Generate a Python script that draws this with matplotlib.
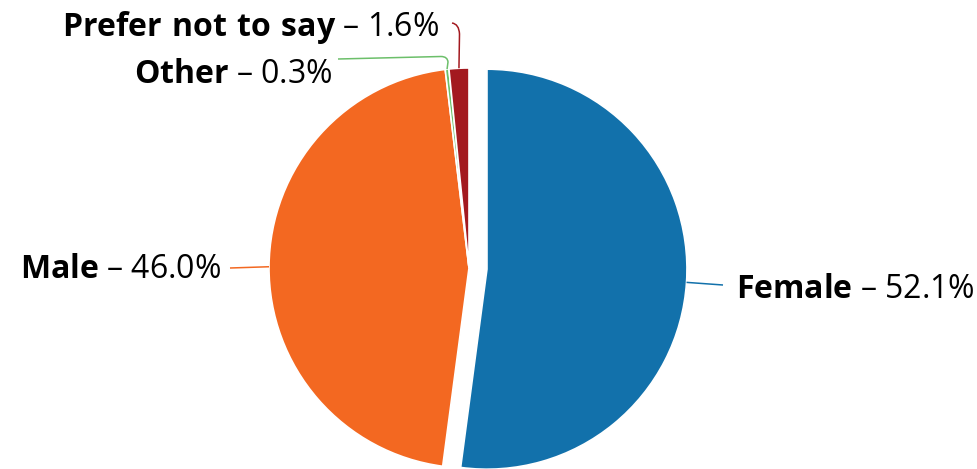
import numpy as np
import matplotlib
matplotlib.use("Agg")
import matplotlib.pyplot as plt
from matplotlib.path import Path
from matplotlib.patches import PathPatch

# Gender split of respondents (percent)
categories = ["Female", "Male", "Other", "Prefer not to say"]
shares = [52.1, 46.0, 0.3, 1.6]
colors = ["#1271AB", "#F36821", "#6CBF6A", "#A3191F"]
line_colors = ["#1271AB", "#F36821", "#6CBF6A", "#A3191F"]

W, H = 978, 469
FONT = "Open Sans"
plt.rcParams["font.family"] = [FONT, "DejaVu Sans"]
plt.rcParams["mathtext.fontset"] = "custom"
plt.rcParams["mathtext.rm"] = FONT
plt.rcParams["mathtext.bf"] = f"{FONT}:bold"

fig = plt.figure(figsize=(W / 100, H / 100), dpi=100)
ax = fig.add_axes([0, 0, 1, 1])


def px(x, y):
    """Pixel position (origin top-left) to data coordinates."""
    return (x, H - y)


center = px(469, 268)
radius = 200
explode = [18, 0, 0, 0]

wedges, _ = ax.pie(
    shares, colors=colors, startangle=90, counterclock=False,
    explode=explode, center=center, radius=radius,
    wedgeprops=dict(edgecolor="white", linewidth=1.2),
)
ax.set_xlim(0, W)
ax.set_ylim(0, H)
ax.set_aspect("auto")
ax.axis("off")


def arc_mid(w):
    t = np.deg2rad((w.theta1 + w.theta2) / 2)
    return (w.center[0] + w.r * np.cos(t), w.center[1] + w.r * np.sin(t))


# label anchors (pixel coords) and leader-line routes toward the labels
layout = {
    "Female": dict(pos=(736, 298), ha="left", route=[(723, 285)]),
    "Male": dict(pos=(221, 278), ha="right", route=[(230, 268)]),
    "Other": dict(pos=(332, 83), ha="right",
                  route=[(448, 62), (447.5, 56.5), (441, 56.5), (338, 59)]),
    "Prefer not to say": dict(pos=(439, 36), ha="right",
                              route=[(459.5, 34), (459, 24), (452, 23)]),
}

for w, name, val, lc in zip(wedges, categories, shares, line_colors):
    spec = layout[name]
    start = arc_mid(w)
    pts = [start] + [px(*p) for p in spec["route"]]
    if len(pts) == 2:
        codes = [Path.MOVETO, Path.LINETO]
    elif len(pts) == 4:
        codes = [Path.MOVETO, Path.LINETO, Path.CURVE3, Path.CURVE3]
    else:
        codes = [Path.MOVETO, Path.LINETO, Path.CURVE3, Path.CURVE3, Path.LINETO]
    ax.add_patch(PathPatch(Path(pts, codes), facecolor="none",
                           edgecolor=lc, linewidth=1.1))

    bold = name.replace(" ", r"\ ")
    ax.text(*px(*spec["pos"]), rf"$\mathbf{{{bold}}}$ – {val:.1f}%",
            ha=spec["ha"], va="baseline", fontsize=23, color="black")

fig.savefig("out.png", dpi=100)
